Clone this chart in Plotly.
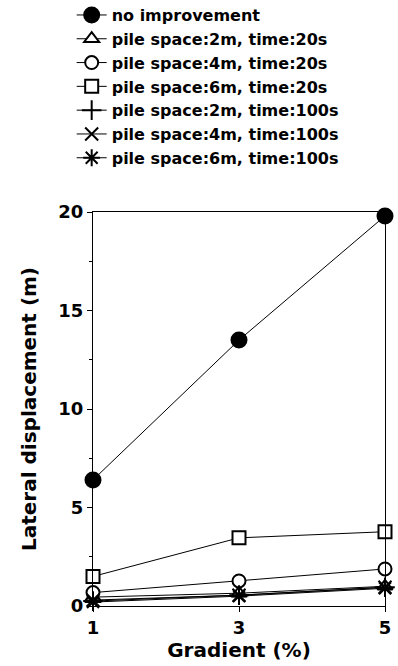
import plotly.graph_objects as go

gradient = [1, 3, 5]
names = [
    "no improvement",
    "pile space:2m, time:20s",
    "pile space:4m, time:20s",
    "pile space:6m, time:20s",
    "pile space:2m, time:100s",
    "pile space:4m, time:100s",
    "pile space:6m, time:100s",
]
no_improvement = [6.4, 13.5, 19.8]
ps2_t20 = [0.45, 0.65, 1.0]
ps4_t20 = [0.68, 1.27, 1.88]
ps6_t20 = [1.5, 3.46, 3.77]
ps2_t100 = [0.25, 0.55, 0.95]
ps4_t100 = [0.3, 0.55, 0.95]
ps6_t100 = [0.2, 0.5, 0.9]

series = [no_improvement, ps2_t20, ps4_t20, ps6_t20, ps2_t100, ps4_t100, ps6_t100]
symbols = ["circle", "triangle-up", "circle", "square",
           "cross-thin-open", "x-thin-open", "asterisk-open"]
fills = ["black", "white", "white", "white", "black", "black", "black"]
sizes = [15, 13, 13, 13, 14, 13, 14]

FONT = "DejaVu Sans, Liberation Sans, Arial"

fig = go.Figure()
for i, (nm, ys) in enumerate(zip(names, series)):
    fig.add_trace(go.Scatter(
        x=gradient, y=ys, name=nm, mode="lines+markers",
        line=dict(color="black", width=1),
        marker=dict(symbol=symbols[i], size=sizes[i], color=fills[i],
                    line=dict(color="black", width=2)),
        cliponaxis=False,
    ))

fig.update_layout(
    width=398, height=666,
    margin=dict(l=93, r=13, t=212, b=60, autoexpand=False),
    paper_bgcolor="white", plot_bgcolor="white",
    font=dict(family=FONT, color="black", size=14),
    legend=dict(x=-0.073, y=1.543,
                xanchor="left", yanchor="top",
                font=dict(size=16, family=FONT, weight="bold"),
                itemwidth=30,
                bgcolor="rgba(0,0,0,0)"),
    showlegend=True,
)
fig.update_xaxes(range=[1, 5], tickvals=gradient, ticktext=["1", "3", "5"],
                 showline=True, linecolor="black", linewidth=1, mirror=True,
                 ticks="outside", ticklen=5, tickcolor="black",
                 showgrid=False, zeroline=False, automargin=True,
                 tickfont=dict(size=18, weight="bold"),
                 title=dict(text="Gradient (%)", font=dict(size=20, weight="bold"), standoff=0))
fig.update_yaxes(range=[0, 20], tickvals=[0, 5, 10, 15, 20],
                 showline=True, linecolor="black", linewidth=1, mirror=True,
                 ticks="outside", ticklen=5, tickcolor="black",
                 minor=dict(dtick=2.5, ticks="outside", ticklen=3, tickcolor="black"),
                 showgrid=False, zeroline=False, automargin=True,
                 tickfont=dict(size=18, weight="bold"),
                 title=dict(text="Lateral displacement (m)", font=dict(size=20, weight="bold"), standoff=16))

fig.write_html("out.html")
